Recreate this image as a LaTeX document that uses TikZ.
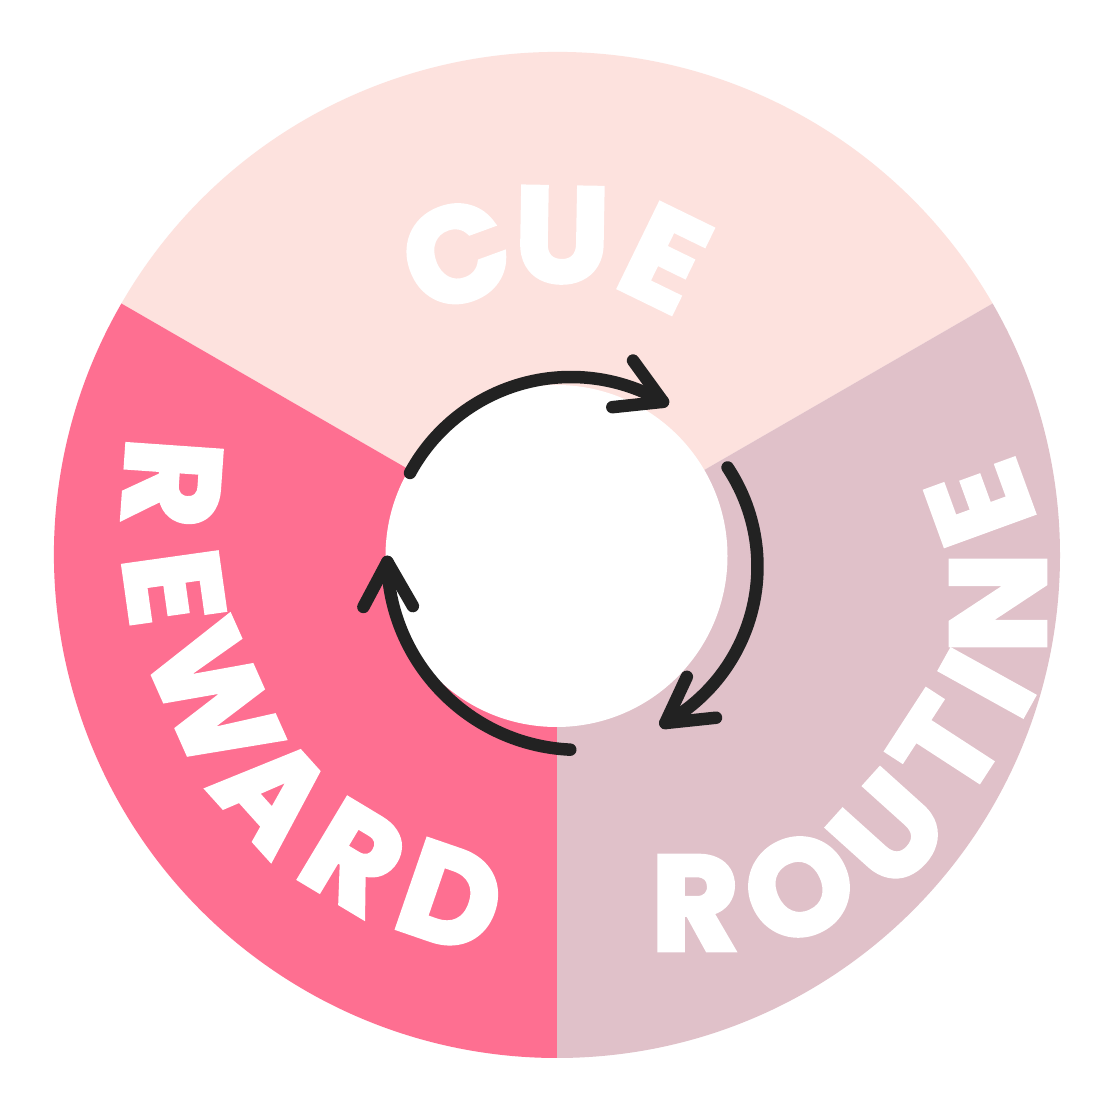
\documentclass[tikz,border=0pt]{standalone}
\usepackage{fontspec}
\newfontfamily\heavy{Poppins Bold}[FakeBold=3.5]
\definecolor{cuecol}{HTML}{FDE2DE}
\definecolor{rewardcol}{HTML}{FE6F91}
\definecolor{routinecol}{HTML}{E0C1C9}
\definecolor{arrowcol}{HTML}{222222}
\tikzset{
  letter/.style={text=white, font=\heavy\fontsize{134}{134}\selectfont, inner sep=0pt, anchor=center},
  arrowline/.style={draw=arrowcol, line width=12.5pt, line cap=round, line join=round}
}
\begin{document}
\begin{tikzpicture}[x=1pt,y=1pt]
\useasboundingbox[fill=white] (0,0) rectangle (1109,1109);
\coordinate (O) at (557,554);
% sectors
\fill[cuecol] (O) -- ++(150:503pt) arc[start angle=150,end angle=30,radius=503pt] -- cycle;
\fill[rewardcol] (O) -- ++(150:503pt) arc[start angle=150,end angle=270,radius=503pt] -- cycle;
\fill[routinecol] (O) -- ++(-90:503pt) arc[start angle=-90,end angle=30,radius=503pt] -- cycle;
% inner hole
\fill[white] (556.5,553) circle[radius=171pt];
% letters CUE
\node[letter, rotate=20]  (c1) at (456,855) {C};
\node[letter, rotate=-1]  (c2) at (562,874) {U};
\node[letter, rotate=-26] (c3) at (665,851) {E};
% REWARD
\node[letter, rotate=-94] (r1) at (172,626) {R};
\node[letter, rotate=-82] (r2) at (174,522) {E};
\node[letter, rotate=-66] (r3) at (214,413) {W};
\node[letter, rotate=-48] (r4) at (274,316) {A};
\node[letter, rotate=-31] (r5) at (354,252) {R};
\node[letter, rotate=-19] (r6) at (451,212) {D};
% ROUTINE
\node[letter, rotate=0]   (t1) at (695,206) {R};
\node[letter, rotate=25]  (t2) at (799,222) {O};
\node[letter, rotate=48]  (t3) at (889,279) {U};
\node[letter, rotate=57]  (t4) at (946,363) {T};
\node[letter, rotate=61]  (t5) at (987,426) {I};
\node[letter, rotate=90]  (t6) at (998,506) {N};
\node[letter, rotate=110] (t7) at (980,606) {E};
% arrow arcs
\coordinate (k1) at (571,549);
\coordinate (k2) at (578.5,542.5);
\coordinate (k3) at (579.3,551.1);
\path (k1) ++(151.6:183pt) coordinate (s1);
\path (k1) ++(59.8:183pt) coordinate (e1);
\path (k2) ++(33.6:179pt) coordinate (s2);
\path (k2) ++(-61:179pt) coordinate (e2);
\path (k3) ++(267.3:192pt) coordinate (s3);
\path (k3) ++(181.2:192pt) coordinate (e3);
\draw[arrowline] (s1) arc[start angle=151.6,end angle=59.8,radius=183pt];
\draw[arrowline] (e1) ++(126:51pt) -- (e1) -- ++(186:51pt);
\draw[arrowline] (s2) arc[start angle=33.6,end angle=-61,radius=179pt];
\draw[arrowline] (e2) ++(65:51pt) -- (e2) -- ++(6:51pt);
\draw[arrowline] (s3) arc[start angle=267.3,end angle=181.2,radius=192pt];
\draw[arrowline] (e3) ++(242:51pt) -- (e3) -- ++(300:51pt);
\end{tikzpicture}
\end{document}
